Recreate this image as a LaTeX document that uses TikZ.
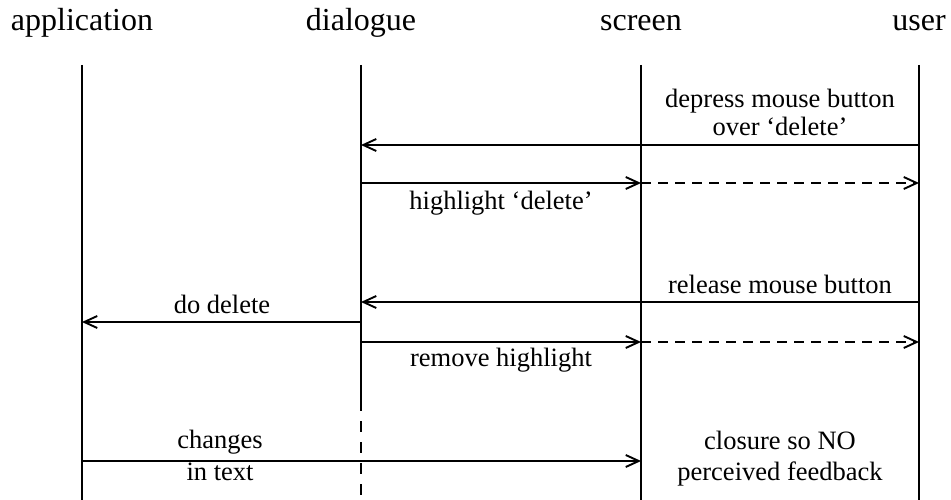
\documentclass[tikz,border=0pt]{standalone}
\usepackage{fontspec}
\setmainfont{Liberation Serif}
\usetikzlibrary{arrows.meta}
\tikzset{
  lifeline/.style={line width=1.3pt},
  msg/.style={line width=1.9pt, -{Straight Barb[length=13pt,width=12pt,line width=1.9pt]}},
  msgdash/.style={msg, dash pattern=on 10pt off 7pt},
  heading/.style={anchor=base, inner sep=0pt, font=\fontsize{32}{36}\selectfont},
  lbl/.style={anchor=base, inner sep=0pt, font=\fontsize{26.5}{30}\selectfont},
}
\begin{document}
\begin{tikzpicture}[x=1pt,y=-1pt]
\useasboundingbox (0,0) rectangle (951,500);

% participant headings
\node[heading] (happ) at (82,31) {application};
\node[heading] (hdlg) at (361,31) {dialogue};
\node[heading] (hscr) at (641,31) {screen};
\node[heading] (husr) at (919,31) {user};

% lifelines
\coordinate (atop) at (82,65);   \coordinate (abot) at (82,500);
\coordinate (dtop) at (361,65);  \coordinate (dmid) at (361,411); \coordinate (dbot) at (361,500);
\coordinate (stop) at (641,65);  \coordinate (sbot) at (641,500);
\coordinate (utop) at (919,65);  \coordinate (ubot) at (919,500);
\draw[lifeline] (atop) -- (abot);
\draw[lifeline] (dtop) -- (dmid);
\draw[lifeline, dash pattern=on 11pt off 10pt, dash phase=-10pt] (dmid) -- (dbot);
\draw[lifeline] (stop) -- (sbot);
\draw[lifeline] (utop) -- (ubot);

% message end points
\coordinate (u1) at (919,145); \coordinate (d1) at (361,145);
\coordinate (d2) at (361,183); \coordinate (s2) at (641,183); \coordinate (u2) at (919,183);
\coordinate (u3) at (919,302); \coordinate (d3) at (361,302);
\coordinate (d4) at (361,322); \coordinate (a4) at (82,322);
\coordinate (d5) at (361,342); \coordinate (s5) at (641,342); \coordinate (u5) at (919,342);
\coordinate (a6) at (82,461);  \coordinate (s6) at (641,461);

% messages
\draw[msg] (u1) -- (d1);
\draw[msg] (d2) -- (s2);
\draw[msgdash] (s2) -- (u2);
\draw[msg] (u3) -- (d3);
\draw[msg] (d4) -- (a4);
\draw[msg] (d5) -- (s5);
\draw[msgdash] (s5) -- (u5);
\draw[msg] (a6) -- (s6);

% message labels
\node[lbl] (l1a) at (780,108) {depress mouse button};
\node[lbl] (l1b) at (780,136) {over ‘delete’};
\node[lbl] (l2)  at (501,209) {highlight ‘delete’};
\node[lbl] (l3)  at (780,293) {release mouse button};
\node[lbl] (l4)  at (222,313) {do delete};
\node[lbl] (l5)  at (501,366) {remove highlight};
\node[lbl] (l6a) at (220,448) {changes};
\node[lbl] (l6b) at (220,480) {in text};
\node[lbl] (l7a) at (780,449) {closure so NO};
\node[lbl] (l7b) at (780,480) {perceived feedback};
\end{tikzpicture}
\end{document}
